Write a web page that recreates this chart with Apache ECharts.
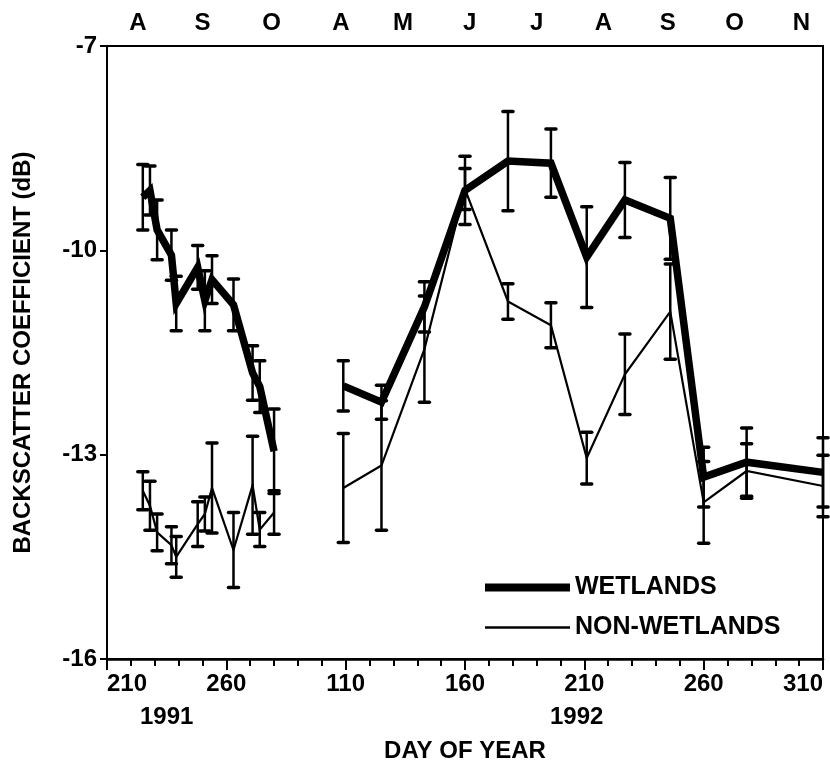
<!DOCTYPE html>
<html>
<head>
<meta charset="utf-8">
<script src="https://cdn.jsdelivr.net/npm/echarts@6/dist/echarts.min.js"></script>
<style>
  html, body { margin: 0; padding: 0; background: #fff; }
  #chart { width: 830px; height: 768px; }
</style>
</head>
<body>
<div id="chart"></div>
<script>
// Sampling dates (day of year) for the two seasons
const days1991 = [225, 228, 231, 237, 239, 248, 251, 254, 263, 271, 274, 280];
const days1992 = [109, 125, 143, 160, 178, 196, 211, 227, 246, 260, 278, 310];

// Mean backscatter (dB) and error-bar half-widths
const wetlands1991    = [-9.22, -9.12, -9.70, -10.07, -10.78, -10.25, -10.74, -10.43, -10.80, -11.80, -12.00, -12.95];
const wetlandsErr1991 = [0.48, 0.36, 0.44, 0.37, 0.40, 0.32, 0.44, 0.35, 0.38, 0.40, 0.38, 0.62];
const nonWet1991      = [-13.53, -13.75, -14.14, -14.33, -14.50, -14.02, -13.87, -13.49, -14.40, -13.45, -14.10, -13.85];
const nonWetErr1991   = [0.28, 0.36, 0.27, 0.27, 0.30, 0.33, 0.25, 0.66, 0.55, 0.72, 0.25, 0.32];

const wetlands1992    = [-11.99, -12.23, -10.83, -9.12, -8.69, -8.72, -10.10, -9.26, -9.53, -13.33, -13.11, -13.26];
const wetlandsErr1992 = [0.37, 0.25, 0.37, 0.50, 0.73, 0.50, 0.74, 0.55, 0.60, 0.44, 0.50, 0.51];
const nonWet1992      = [-13.49, -13.16, -11.45, -9.10, -10.75, -11.10, -13.05, -11.82, -10.90, -13.70, -13.24, -13.46];
const nonWetErr1992   = [0.80, 0.95, 0.78, 0.30, 0.26, 0.33, 0.38, 0.59, 0.70, 0.60, 0.40, 0.45];

// Axis annotation
const yTicks = [-16, -13, -10, -7];
const monthLetters = ['A', 'S', 'O', 'A', 'M', 'J', 'J', 'A', 'S', 'O', 'N'];
const monthDays    = [223, 250, 279, 308, 334, 362, 390, 418, 445, 473, 501];
const yearLabels   = ['1991', '1992'];

// The 1992 season follows 1991 on one continuous day scale
const YEAR_SHIFT = 200;
const SEASON_BREAK = 295;

const FONT = 'Liberation Sans';
const TEXT = { fontFamily: FONT, fontWeight: 'bold', fontSize: 24, color: '#000' };
const LEGEND_TEXT = Object.assign({}, TEXT, { fontSize: 25 });

function lineData(v91, v92) {
  return days1991.map((d, i) => [d, v91[i]])
    .concat([[SEASON_BREAK, '-']])
    .concat(days1992.map((d, i) => [d + YEAR_SHIFT, v92[i]]));
}
function barData(v91, e91, v92, e92) {
  return days1991.map((d, i) => [d, v91[i] - e91[i], v91[i] + e91[i]])
    .concat(days1992.map((d, i) => [d + YEAR_SHIFT, v92[i] - e92[i], v92[i] + e92[i]]));
}

function renderErrorBar(params, api) {
  const x = api.value(0);
  const lo = api.coord([x, api.value(1)]);
  const hi = api.coord([x, api.value(2)]);
  const cap = 5;
  const stem = { stroke: '#000', lineWidth: 2.5 };
  const capStyle = { stroke: '#000', lineWidth: 3.5, lineCap: 'round' };
  return {
    type: 'group',
    children: [
      { type: 'line', shape: { x1: lo[0], y1: lo[1], x2: hi[0], y2: hi[1] }, style: stem },
      { type: 'line', shape: { x1: lo[0] - cap, y1: lo[1], x2: lo[0] + cap, y2: lo[1] }, style: capStyle },
      { type: 'line', shape: { x1: hi[0] - cap, y1: hi[1], x2: hi[0] + cap, y2: hi[1] }, style: capStyle }
    ]
  };
}

const chart = echarts.init(document.getElementById('chart'), null, { renderer: 'canvas' });

const option = {
  animation: false,
  backgroundColor: '#fff',
  grid: {
    left: 107, right: 7, top: 46, bottom: 109,
    show: true, borderColor: '#000', borderWidth: 2, backgroundColor: 'transparent'
  },
  xAxis: [
    {
      type: 'value', min: 210, max: 510, interval: 50,
      axisLine: { show: true, onZero: false, lineStyle: { color: '#000', width: 2.5 } },
      axisTick: { show: true, length: 11, lineStyle: { color: '#000', width: 2 } },
      minorTick: { show: true, splitNumber: 5, length: 7, lineStyle: { color: '#000', width: 2 } },
      splitLine: { show: false },
      axisLabel: Object.assign({}, TEXT, {
        margin: 13,
        alignMinLabel: 'left',
        alignMaxLabel: 'right',
        formatter: v => String(v > SEASON_BREAK ? v - YEAR_SHIFT : v)
      }),
      name: 'DAY OF YEAR', nameLocation: 'middle', nameGap: 80,
      nameTextStyle: TEXT
    },
    {
      type: 'value', position: 'top', min: 210, max: 510,
      axisLine: { show: true, lineStyle: { color: '#000', width: 2 } },
      axisTick: { show: false },
      splitLine: { show: false },
      axisLabel: Object.assign({}, TEXT, {
        margin: 11,
        customValues: monthDays,
        formatter: v => monthLetters[monthDays.indexOf(v)] || ''
      })
    }
  ],
  yAxis: {
    type: 'value', min: -16, max: -7, interval: 3,
    axisLine: { show: true, lineStyle: { color: '#000', width: 2 } },
    axisTick: { show: true, length: 7, lineStyle: { color: '#000', width: 2 } },
    splitLine: { show: false },
    axisLabel: Object.assign({}, TEXT, {
      margin: 10,
      customValues: yTicks,
      formatter: v => String(v)
    }),
    name: 'BACKSCATTER COEFFICIENT (dB)', nameLocation: 'middle', nameGap: 72, nameRotate: 90,
    nameTextStyle: TEXT
  },
  legend: [
    {
      data: ['WETLANDS'], left: 485, top: 575, padding: 0, selectedMode: false,
      icon: 'rect', itemWidth: 85, itemHeight: 8, itemGap: 0,
      textStyle: LEGEND_TEXT
    },
    {
      data: ['NON-WETLANDS'], left: 485, top: 615, padding: 0, selectedMode: false,
      icon: 'rect', itemWidth: 85, itemHeight: 2.5, itemGap: 0,
      textStyle: LEGEND_TEXT
    }
  ],
  graphic: yearLabels.map((t, i) => ({
    type: 'text',
    left: i === 0 ? 140 : 550,
    top: 705,
    style: { text: t, font: 'bold 24px "' + FONT + '"', fill: '#000' }
  })),
  series: [
    {
      name: 'WETLANDS', type: 'line', data: lineData(wetlands1991, wetlands1992),
      showSymbol: false, symbol: 'none', connectNulls: false,
      lineStyle: { color: '#000', width: 7.5, join: 'miter' },
      itemStyle: { color: '#000' }, z: 3
    },
    {
      name: 'NON-WETLANDS', type: 'line', data: lineData(nonWet1991, nonWet1992),
      showSymbol: false, symbol: 'none', connectNulls: false,
      lineStyle: { color: '#000', width: 2.2, join: 'miter' },
      itemStyle: { color: '#000' }, z: 3
    },
    {
      type: 'custom', renderItem: renderErrorBar, clip: false,
      data: barData(wetlands1991, wetlandsErr1991, wetlands1992, wetlandsErr1992),
      encode: { x: 0, y: [1, 2] }, z: 4
    },
    {
      type: 'custom', renderItem: renderErrorBar, clip: false,
      data: barData(nonWet1991, nonWetErr1991, nonWet1992, nonWetErr1992),
      encode: { x: 0, y: [1, 2] }, z: 4
    }
  ]
};

chart.setOption(option);
</script>
</body>
</html>
